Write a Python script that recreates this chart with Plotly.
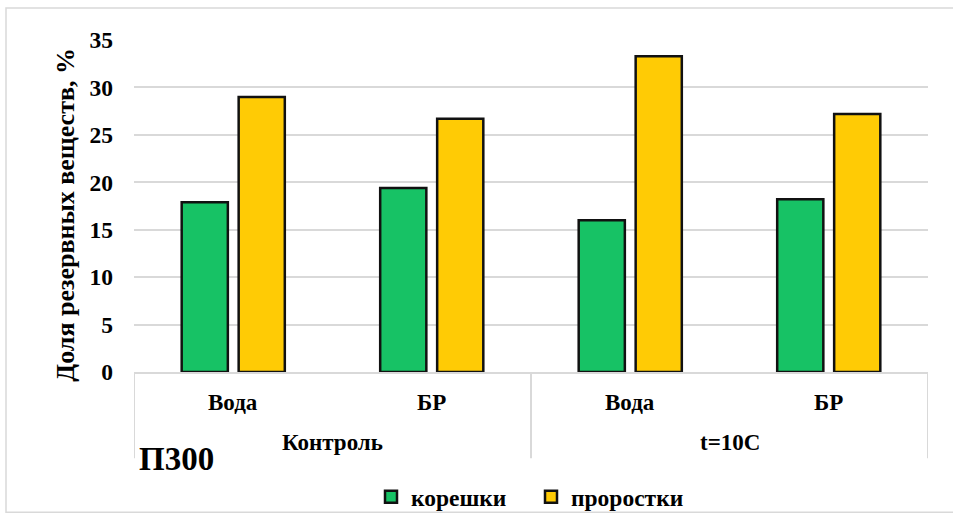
import plotly.graph_objects as go

groups = ["Контроль", "Контроль", "t=10C", "t=10C"]
treatments = ["Вода", "БР", "Вода", "БР"]
group_names = ["Контроль", "t=10C"]
koreshki = [17.9, 19.4, 16.0, 18.2]
prorostki = [29.0, 26.7, 33.3, 27.2]
series_names = ["корешки", "проростки"]
y_ticks = [0, 5, 10, 15, 20, 25, 30, 35]
y_title = "Доля резервных веществ, %"

W, H = 953, 517
L, R, T, B = 134, 25, 40, 144.5
pw = W - L - R
ph = H - T - B

FONT = "Liberation Serif"

fig = go.Figure()
fig.add_trace(go.Bar(
    x=[groups, treatments], y=koreshki, name=series_names[0],
    marker=dict(color="#17C265", line=dict(color="#111111", width=2.5)),
))
fig.add_trace(go.Bar(
    x=[groups, treatments], y=prorostki, name=series_names[1],
    marker=dict(color="#FFCB05", line=dict(color="#111111", width=2.5)),
))

def px_x(p):
    return (p - L) / pw

def px_y(p):
    return (H - B - p) / ph

shapes = [dict(type="rect", xref="paper", yref="paper",
               x0=px_x(6), x1=px_x(960), y0=px_y(513), y1=px_y(8),
               line=dict(color="#D9D9D9", width=1.5), fillcolor="rgba(0,0,0,0)", layer="below")]

# group dividers at category-index boundaries
n = len(treatments)
bounds = [-0.5] + [i + 0.5 for i in range(n - 1) if groups[i] != groups[i + 1]] + [n - 0.5]
for b in bounds:
    shapes.append(dict(type="line", xref="x", yref="paper", x0=b, x1=b,
                       y0=px_y(372.5), y1=px_y(459), line=dict(color="#D9D9D9", width=2)))

lbl_font = dict(family=FONT, size=23, color="black", weight="bold")
annotations = []
for i, t in enumerate(treatments):
    annotations.append(dict(text=t, xref="x", yref="paper", x=i, y=px_y(403),
                            xanchor="center", yanchor="middle", showarrow=False, font=lbl_font))
for g in group_names:
    idx = [i for i, gg in enumerate(groups) if gg == g]
    annotations.append(dict(text=g, xref="x", yref="paper", x=sum(idx) / len(idx), y=px_y(443),
                            xanchor="center", yanchor="middle", showarrow=False, font=lbl_font))
annotations.append(dict(text="П300", xref="paper", yref="paper", x=px_x(176), y=px_y(460),
                        xanchor="center", yanchor="middle", showarrow=False,
                        font=dict(family=FONT, size=33, color="black", weight="bold")))
annotations.append(dict(text=y_title, xref="paper", yref="paper", x=px_x(66), y=px_y(215),
                        xanchor="center", yanchor="middle", textangle=-90, showarrow=False,
                        font=dict(family=FONT, size=26, color="black", weight="bold")))

fig.update_layout(
    width=W, height=H,
    margin=dict(l=L, r=R, t=T, b=B, pad=0, autoexpand=False),
    paper_bgcolor="white", plot_bgcolor="white",
    font=dict(family=FONT, size=23, color="black", weight="bold"),
    barmode="group", bargap=0.426, bargroupgap=0.19,
    showlegend=True,
    legend=dict(orientation="h", xref="container", yref="container",
                x=531 / W, xanchor="center", y=1 - 497 / H, yanchor="middle",
                font=dict(family=FONT, size=23.5, color="black", weight="bold"),
                entrywidth=115, entrywidthmode="pixels", bgcolor="rgba(0,0,0,0)"),
    yaxis=dict(range=[0, 35], tickvals=y_ticks, showgrid=True, gridcolor="#D9D9D9", gridwidth=2,
               zeroline=False, showline=False, ticks="", ticklabelstandoff=20,
               tickfont=dict(family=FONT, size=23.5, color="black", weight="bold")),
    xaxis=dict(type="multicategory", showline=True, linecolor="#D9D9D9", linewidth=2,
               showdividers=False, showticklabels=False, ticks="",
               range=[-0.5, n - 0.5]),
    shapes=shapes,
    annotations=annotations,
)

fig.write_html("out.html")
